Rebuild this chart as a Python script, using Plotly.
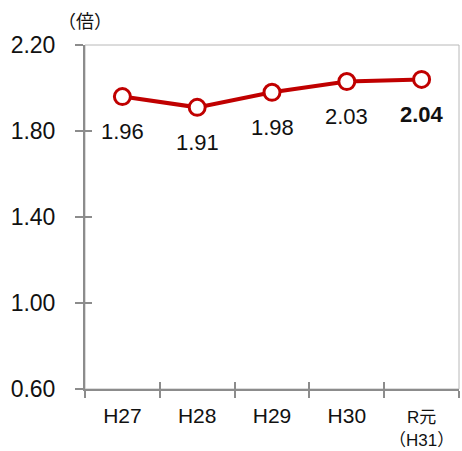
import plotly.graph_objects as go

# data
years = ["H27", "H28", "H29", "H30", "R元"]
tick_text = ["<span style='font-size:21px'>H27</span>",
             "<span style='font-size:21px'>H28</span>",
             "<span style='font-size:21px'>H29</span>",
             "<span style='font-size:21px'>H30</span>",
             "R元<br>（H31）"]
ratio = [1.96, 1.91, 1.98, 2.03, 2.04]
label_text = ["1.96", "1.91", "1.98", "2.03", "<b>2.04</b>"]
y_ticks = [0.60, 1.00, 1.40, 1.80, 2.20]

RED = "#C00000"
AXIS_GRAY = "#8C8C8C"
FONT = "Liberation Sans, Arial, Noto Sans CJK JP, sans-serif"

fig = go.Figure()
fig.add_trace(go.Scatter(
    x=years, y=ratio, mode="lines+markers",
    line=dict(color=RED, width=4),
    marker=dict(size=16, color="white", line=dict(color=RED, width=3)),
    showlegend=False, hoverinfo="skip",
))
# empty trace so the overlay axes (inner half of the crossing ticks) get drawn
fig.add_trace(go.Scatter(x=[], y=[], xaxis="x2", yaxis="y2",
                         showlegend=False, hoverinfo="skip"))

for x, y, t in zip(years, ratio, label_text):
    fig.add_annotation(x=x, y=y, text=t, showarrow=False, yshift=-35,
                       font=dict(size=22, color="#111", family=FONT))

fig.add_annotation(xref="paper", yref="paper", x=0.0, y=1.0, yshift=35,
                   text="（倍）", showarrow=False, xanchor="center",
                   font=dict(size=18, color="#111", family=FONT))

# light frame on top / right
fig.add_shape(type="rect", xref="paper", yref="paper", x0=0, x1=1, y0=0, y1=1,
              line=dict(color="#B8B8B8", width=1), layer="below")

# category boundaries, for the inner half of the crossing tick marks
boundaries = [i - 0.5 for i in range(len(years))]

fig.update_layout(
    width=462, height=451,
    margin=dict(l=85, r=3, t=45, b=62, autoexpand=False),
    paper_bgcolor="white", plot_bgcolor="white",
    font=dict(family=FONT, color="#111", size=22),
    xaxis=dict(
        type="category", tickmode="array", tickvals=years, ticktext=tick_text,
        tickson="boundaries", ticks="outside", ticklen=7, tickwidth=1.5,
        tickcolor=AXIS_GRAY, showline=True, linecolor=AXIS_GRAY, linewidth=2,
        showgrid=False, zeroline=False, range=[-0.5, 4.5], automargin=False,
        tickfont=dict(size=17), ticklabelstandoff=12,
    ),
    yaxis=dict(
        range=[0.60, 2.20], tickmode="array", tickvals=y_ticks,
        ticktext=[f"{v:.2f}" for v in y_ticks],
        ticks="outside", ticklen=8, tickwidth=1.5, tickcolor=AXIS_GRAY,
        showline=True, linecolor=AXIS_GRAY, linewidth=2, automargin=False,
        showgrid=False, zeroline=False, ticklabelstandoff=15,
        tickfont=dict(size=23),
    ),
    xaxis2=dict(
        overlaying="x", range=[-0.5, len(years) - 0.5], tickmode="array",
        tickvals=boundaries, ticks="inside", ticklen=7, tickwidth=1.5,
        tickcolor=AXIS_GRAY, showticklabels=False, showgrid=False,
        zeroline=False, showline=False, automargin=False,
    ),
    yaxis2=dict(
        overlaying="y", range=[0.60, 2.20], tickmode="array", tickvals=y_ticks,
        ticks="inside", ticklen=7, tickwidth=1.5, tickcolor=AXIS_GRAY,
        showticklabels=False, showgrid=False, zeroline=False, showline=False,
        automargin=False,
    ),
)

# the page body has a default margin; remove it so the figure sits at 0,0
fig.write_html("out.html", config={"displayModeBar": False},
               post_script="document.body.style.margin='0';")
